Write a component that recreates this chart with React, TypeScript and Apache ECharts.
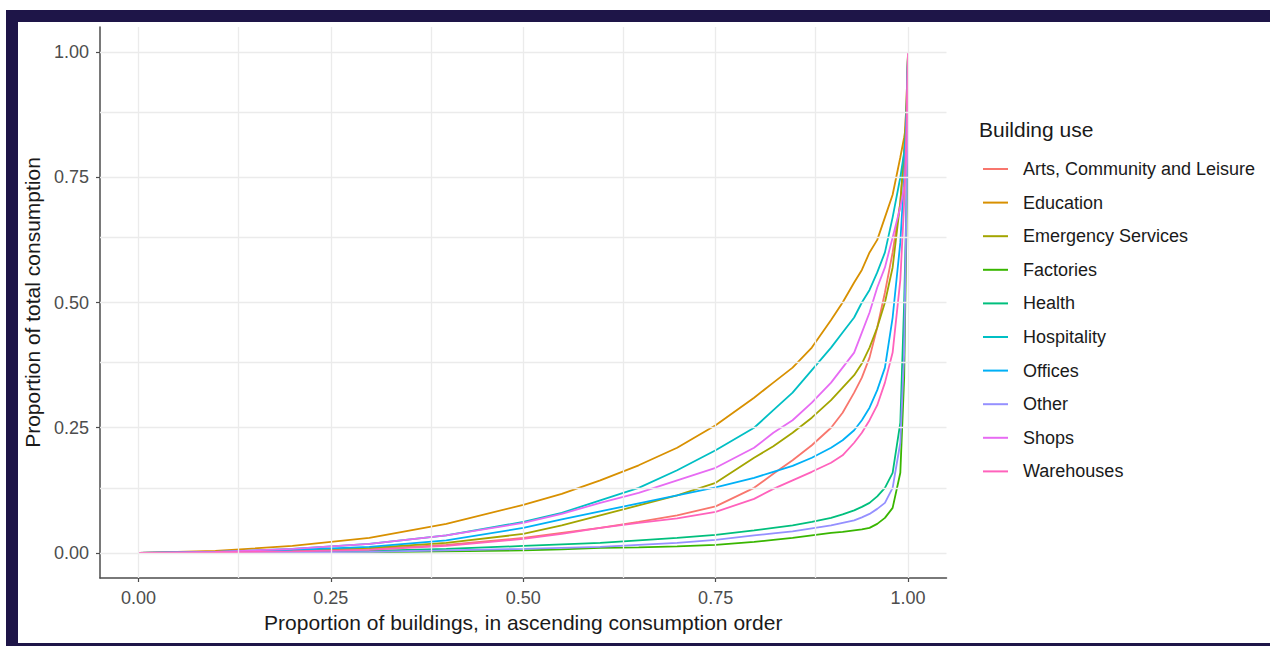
import React, { useEffect, useRef } from "react";
import * as echarts from "echarts";

const xs = [0, 0.1, 0.2, 0.3, 0.4, 0.5, 0.55, 0.6, 0.65, 0.7, 0.75, 0.8, 0.825, 0.85, 0.875, 0.9, 0.915, 0.93, 0.94, 0.95, 0.96, 0.97, 0.98, 0.99, 0.995, 0.998, 1];

const categories = [
  "Arts, Community and Leisure",
  "Education",
  "Emergency Services",
  "Factories",
  "Health",
  "Hospitality",
  "Offices",
  "Other",
  "Shops",
  "Warehouses",
];

const colors = ["#F8766D", "#D89000", "#A3A500", "#39B600", "#00BF7D", "#00BFC4", "#00B0F6", "#9590FF", "#E76BF3", "#FF62BC"];

const arts = [0, 0.001, 0.003, 0.008, 0.016, 0.03, 0.04, 0.05, 0.062, 0.075, 0.093, 0.13, 0.158, 0.185, 0.215, 0.25, 0.28, 0.32, 0.35, 0.39, 0.45, 0.52, 0.6, 0.7, 0.8, 0.9, 1];
const education = [0, 0.004, 0.014, 0.03, 0.058, 0.096, 0.118, 0.145, 0.175, 0.21, 0.255, 0.31, 0.34, 0.37, 0.41, 0.465, 0.5, 0.54, 0.565, 0.6, 0.625, 0.67, 0.715, 0.79, 0.83, 0.86, 1];
const emergency = [0, 0.001, 0.004, 0.01, 0.02, 0.038, 0.055, 0.075, 0.095, 0.115, 0.14, 0.19, 0.213, 0.24, 0.27, 0.305, 0.33, 0.355, 0.378, 0.41, 0.45, 0.5, 0.57, 0.7, 0.8, 0.9, 1];
const factories = [0, 0, 0, 0.001, 0.003, 0.005, 0.007, 0.01, 0.011, 0.013, 0.016, 0.022, 0.026, 0.03, 0.035, 0.04, 0.042, 0.045, 0.047, 0.05, 0.058, 0.07, 0.09, 0.16, 0.35, 0.65, 1];
const health = [0, 0.001, 0.002, 0.004, 0.008, 0.014, 0.017, 0.02, 0.025, 0.03, 0.036, 0.045, 0.05, 0.055, 0.062, 0.07, 0.077, 0.085, 0.092, 0.1, 0.113, 0.13, 0.16, 0.26, 0.5, 0.7, 1];
const hospitality = [0, 0.002, 0.008, 0.018, 0.035, 0.062, 0.08, 0.105, 0.13, 0.165, 0.205, 0.25, 0.285, 0.32, 0.365, 0.41, 0.44, 0.47, 0.5, 0.525, 0.56, 0.6, 0.67, 0.75, 0.8, 0.84, 1];
const offices = [0, 0.002, 0.006, 0.012, 0.025, 0.05, 0.067, 0.083, 0.099, 0.115, 0.131, 0.15, 0.162, 0.174, 0.19, 0.21, 0.225, 0.245, 0.265, 0.29, 0.325, 0.37, 0.47, 0.62, 0.75, 0.88, 1];
const other = [0, 0, 0.001, 0.002, 0.005, 0.008, 0.01, 0.012, 0.016, 0.02, 0.026, 0.035, 0.039, 0.043, 0.049, 0.055, 0.06, 0.065, 0.071, 0.078, 0.088, 0.1, 0.13, 0.22, 0.4, 0.7, 1];
const shops = [0, 0.002, 0.008, 0.018, 0.035, 0.06, 0.078, 0.1, 0.12, 0.145, 0.17, 0.21, 0.24, 0.265, 0.3, 0.34, 0.37, 0.4, 0.44, 0.48, 0.53, 0.57, 0.63, 0.69, 0.73, 0.78, 1];
const warehouses = [0, 0.001, 0.003, 0.006, 0.014, 0.028, 0.038, 0.05, 0.06, 0.069, 0.082, 0.108, 0.128, 0.145, 0.162, 0.18, 0.195, 0.22, 0.24, 0.265, 0.295, 0.34, 0.4, 0.545, 0.7, 0.85, 1];

const seriesValues = [arts, education, emergency, factories, health, hospitality, offices, other, shops, warehouses];

const tickValues = [0, 0.25, 0.5, 0.75, 1];
const gridValues = [0, 0.125, 0.25, 0.375, 0.5, 0.625, 0.75, 0.875, 1];

const FONT = "'Liberation Sans', Arial, sans-serif";

export default function App() {
  const ref = useRef<HTMLDivElement>(null);
  useEffect(() => {
    if (!ref.current) return;
    const chart = echarts.init(ref.current, null, { renderer: "svg" });
    const gridLine = { color: "#ebebeb", width: 1.3, type: "solid" as const };
    const series: any[] = [
      {
        name: "grid",
        type: "line",
        data: [[0, 0]],
        symbol: "none",
        lineStyle: { opacity: 0 },
        silent: true,
        z: 1,
        markLine: {
          silent: true,
          symbol: "none",
          label: { show: false },
          lineStyle: gridLine,
          data: [
            ...gridValues.map((v) => ({ xAxis: v })),
            ...gridValues.map((v) => ({ yAxis: v })),
          ],
        },
      },
    ];
    categories.forEach((name, i) => {
      series.push({
        name,
        type: "line",
        data: xs.map((x, j) => [x, seriesValues[i][j]]),
        symbol: "none",
        showSymbol: false,
        smooth: false,
        color: colors[i],
        lineStyle: { width: 1.8, color: colors[i] },
        z: 2,
      });
    });
    const axisLabel = {
      customValues: tickValues,
      formatter: (v: number) => v.toFixed(2),
      fontSize: 18,
      color: "#4d4d4d",
      margin: 11,
      fontFamily: FONT,
    };
    const axisTick = { show: true, customValues: tickValues, length: 4, lineStyle: { color: "#4d4d4d", width: 1.2 } };
    const axisLine = { show: true, onZero: false, lineStyle: { color: "#4d4d4d", width: 1.5 } };
    chart.setOption({
      animation: false,
      backgroundColor: "#ffffff",
      textStyle: { fontFamily: FONT },
      grid: { left: 100, right: 323.5, top: 27, bottom: 68, containLabel: false },
      title: {
        text: "Building use",
        left: 979,
        top: 119,
        padding: 0,
        textStyle: { fontFamily: FONT, fontSize: 21, fontWeight: "normal", color: "#1a1a1a", lineHeight: 21 },
      },
      legend: {
        data: categories,
        orient: "vertical",
        left: 983,
        top: 159,
        padding: 0,
        icon: "rect",
        itemWidth: 25,
        itemHeight: 2,
        itemGap: 13.6,
        textStyle: { fontFamily: FONT, fontSize: 18, color: "#1a1a1a", lineHeight: 20, padding: [0, 0, 0, 10] },
      },
      xAxis: {
        type: "value",
        min: -0.05,
        max: 1.05,
        name: "Proportion of buildings, in ascending consumption order",
        nameLocation: "middle",
        nameGap: 32.5,
        nameTextStyle: { fontFamily: FONT, fontSize: 21, color: "#1a1a1a", lineHeight: 21 },
        axisLine,
        axisTick,
        axisLabel,
        splitLine: { show: false },
      },
      yAxis: {
        type: "value",
        min: -0.05,
        max: 1.05,
        name: "Proportion of total consumption",
        nameLocation: "middle",
        nameGap: 49.5,
        nameTextStyle: { fontFamily: FONT, fontSize: 21, color: "#1a1a1a", lineHeight: 21 },
        axisLine,
        axisTick,
        axisLabel,
        splitLine: { show: false },
      },
      graphic: [
        { type: "rect", shape: { x: 6, y: 10, width: 1264, height: 12 }, style: { fill: "#1e1548" }, silent: true },
        { type: "rect", shape: { x: 6, y: 10, width: 12, height: 636 }, style: { fill: "#1e1548" }, silent: true },
        { type: "rect", shape: { x: 6, y: 643, width: 1264, height: 3 }, style: { fill: "#1e1548" }, silent: true },
      ],
      series,
    });
    return () => chart.dispose();
  }, []);
  return (
    <div
      ref={ref}
      style={{ position: "fixed", left: 0, top: 0, width: 1270, height: 646, background: "#ffffff" }}
    />
  );
}
